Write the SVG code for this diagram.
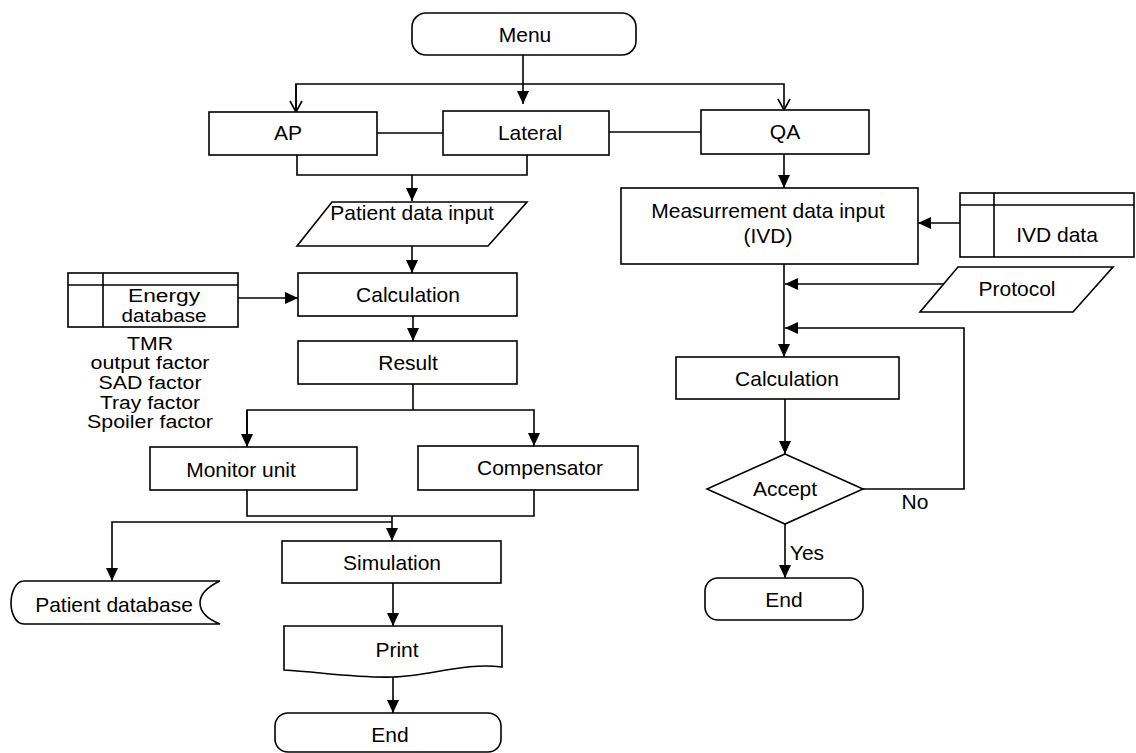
<svg xmlns="http://www.w3.org/2000/svg" width="1136" height="753" viewBox="0 0 1136 753">
<defs>
<style>
.s{fill:#fff;stroke:#000;stroke-width:1.6}
.l{fill:none;stroke:#000;stroke-width:1.6}
.t{font-family:"Liberation Sans",Arial,sans-serif;font-size:21px;fill:#000;text-anchor:middle}
.tf{font-family:"Liberation Sans",Arial,sans-serif;font-size:17.5px;fill:#000;text-anchor:middle}
</style>
<marker id="ah" viewBox="0 0 13 12" refX="13" refY="6" markerWidth="13" markerHeight="12" orient="auto" markerUnits="userSpaceOnUse"><path d="M0,0 L13,6 L0,12 Z" fill="#000"/></marker>
<marker id="oh" viewBox="0 0 13 14" refX="12" refY="7" markerWidth="13" markerHeight="14" orient="auto" markerUnits="userSpaceOnUse"><path d="M1,1 L12,7 L1,13" fill="none" stroke="#000" stroke-width="1.6"/></marker>
</defs>
<rect width="1136" height="753" fill="#fff"/>

<g id="connectors">
<line class="l" x1="523" y1="55" x2="523" y2="104" marker-end="url(#ah)"/>
<polyline class="l" points="296,111 296,84 784,84 784,110" marker-end="url(#oh)"/>
<line class="l" x1="296" y1="84" x2="296" y2="112" marker-end="url(#oh)"/>
<line class="l" x1="377" y1="133" x2="443" y2="133"/>
<line class="l" x1="609" y1="132" x2="701" y2="132"/>
<polyline class="l" points="297,155 297,175 527,175 527,155"/>
<line class="l" x1="412" y1="175" x2="412" y2="201" marker-end="url(#ah)"/>
<line class="l" x1="412" y1="246" x2="412" y2="273" marker-end="url(#ah)"/>
<line class="l" x1="238" y1="298" x2="298" y2="298" marker-end="url(#ah)"/>
<line class="l" x1="413" y1="316" x2="413" y2="341" marker-end="url(#ah)"/>
<line class="l" x1="413" y1="384" x2="413" y2="410"/>
<polyline class="l" points="247,446 247,410 534,410 534,446" marker-end="url(#ah)"/>
<line class="l" x1="247" y1="410" x2="247" y2="447" marker-end="url(#ah)"/>
<polyline class="l" points="247,490 247,516 534,516 534,490"/>
<line class="l" x1="392" y1="516" x2="392" y2="541" marker-end="url(#ah)"/>
<polyline class="l" points="392,522 112,522 112,581" marker-end="url(#ah)"/>
<line class="l" x1="393" y1="583" x2="393" y2="626" marker-end="url(#ah)"/>
<line class="l" x1="393" y1="677" x2="393" y2="713" marker-end="url(#ah)"/>
<line class="l" x1="784" y1="154" x2="784" y2="188" marker-end="url(#ah)"/>
<line class="l" x1="960" y1="223" x2="918" y2="223" marker-end="url(#ah)"/>
<line class="l" x1="784" y1="264" x2="784" y2="357" marker-end="url(#ah)"/>
<line class="l" x1="944" y1="284" x2="785" y2="284" marker-end="url(#ah)"/>
<polyline class="l" points="863,489 964,489 964,328 785,328" marker-end="url(#ah)"/>
<line class="l" x1="785" y1="399" x2="785" y2="454" marker-end="url(#ah)"/>
<line class="l" x1="785" y1="524" x2="785" y2="578" marker-end="url(#ah)"/>
</g>

<g id="menu"><rect class="s" x="412" y="13" width="224" height="42" rx="14"/><text class="t" x="525" y="42">Menu</text></g>
<g id="ap"><rect class="s" x="209" y="112" width="168" height="43"/><text class="t" x="288" y="140">AP</text></g>
<g id="lateral"><rect class="s" x="443" y="111" width="166" height="44"/><text class="t" x="530" y="140">Lateral</text></g>
<g id="qa"><rect class="s" x="701" y="110" width="168" height="44"/><text class="t" x="785" y="139">QA</text></g>
<g id="patient-data-input"><polygon class="s" points="332,202 527,202 488,246 297,246"/><text class="t" x="412" y="220">Patient data input</text></g>
<g id="energy-database"><rect class="s" x="68" y="273" width="170" height="54"/><line class="l" x1="68" y1="285" x2="238" y2="285"/><line class="l" x1="103" y1="273" x2="103" y2="327"/>
<text class="tf" x="164" y="302" textLength="72" lengthAdjust="spacingAndGlyphs">Energy</text>
<text class="tf" x="164" y="322" textLength="85" lengthAdjust="spacingAndGlyphs">database</text></g>
<g id="factors">
<text class="tf" x="150" y="350" textLength="46" lengthAdjust="spacingAndGlyphs">TMR</text>
<text class="tf" x="150" y="369" textLength="119" lengthAdjust="spacingAndGlyphs">output factor</text>
<text class="tf" x="150" y="389" textLength="103" lengthAdjust="spacingAndGlyphs">SAD factor</text>
<text class="tf" x="150" y="409" textLength="100" lengthAdjust="spacingAndGlyphs">Tray factor</text>
<text class="tf" x="150" y="428" textLength="126" lengthAdjust="spacingAndGlyphs">Spoiler factor</text>
</g>
<g id="calculation-left"><rect class="s" x="298" y="273" width="219" height="43"/><text class="t" x="408" y="302">Calculation</text></g>
<g id="result"><rect class="s" x="298" y="341" width="219" height="43"/><text class="t" x="408" y="370">Result</text></g>
<g id="monitor-unit"><rect class="s" x="150" y="447" width="207" height="43"/><text class="t" x="241" y="477">Monitor unit</text></g>
<g id="compensator"><rect class="s" x="418" y="446" width="220" height="44"/><text class="t" x="540" y="475">Compensator</text></g>
<g id="simulation"><rect class="s" x="282" y="541" width="219" height="42"/><text class="t" x="392" y="570">Simulation</text></g>
<g id="patient-database"><path class="s" d="M24,581 H220 C205,588 200,596 200,603 C200,610 205,618 220,624 H24 C15,624 11,612 11,603 C11,594 15,581 24,581 Z"/><text class="t" x="114" y="612">Patient database</text></g>
<g id="print"><path class="s" d="M284,626 H502 V667 C465,662 430,676 393,677 C355,678 320,672 284,670 Z"/><text class="t" x="397" y="657">Print</text></g>
<g id="end-left"><rect class="s" x="275" y="713" width="226" height="39" rx="13"/><text class="t" x="390" y="742">End</text></g>
<g id="measurement"><rect class="s" x="621" y="188" width="297" height="76"/><text class="t" x="768" y="218">Measurrement data input</text><text class="t" x="768" y="243">(IVD)</text></g>
<g id="ivd-data"><rect class="s" x="960" y="193" width="174" height="64"/><line class="l" x1="960" y1="205" x2="1134" y2="205"/><line class="l" x1="994" y1="193" x2="994" y2="257"/><text class="t" x="1057" y="242">IVD data</text></g>
<g id="protocol"><polygon class="s" points="958,267 1113,267 1073,312 920,312"/><text class="t" x="1017" y="296">Protocol</text></g>
<g id="calculation-right"><rect class="s" x="676" y="357" width="223" height="42"/><text class="t" x="787" y="386">Calculation</text></g>
<g id="accept"><polygon class="s" points="785,454 863,489 785,524 707,489"/><text class="t" x="785" y="496">Accept</text></g>
<text class="t" x="915" y="509">No</text>
<text class="t" x="807" y="560">Yes</text>
<g id="end-right"><rect class="s" x="705" y="578" width="158" height="42" rx="13"/><text class="t" x="784" y="607">End</text></g>
</svg>
